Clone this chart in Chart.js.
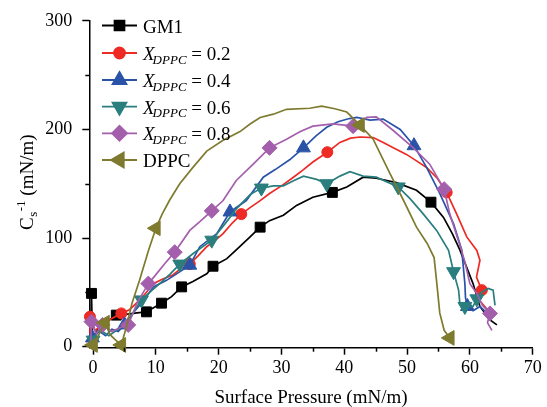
<!DOCTYPE html>
<html>
<head>
<meta charset="utf-8">
<style>
  html, body { margin: 0; padding: 0; background: #ffffff; }
  #wrap { width: 547px; height: 407px; position: relative; }
</style>
<script src="https://cdn.jsdelivr.net/npm/chart.js@4.4.0/dist/chart.umd.min.js"></script>
</head>
<body>
<div id="wrap"><canvas id="c" width="547" height="407"></canvas></div>
<script>
// Surface pressure (mN/m) vs. compression modulus Cs^-1 (mN/m)
const xTicks = [0, 10, 20, 30, 40, 50, 60, 70];
const xMinorTicks = [5, 15, 25, 35, 45, 55, 65];
const yTicks = [0, 100, 200, 300];
const yMinorTicks = [50, 150, 250];

const legendLabels = ['GM1', 'X_DPPC = 0.2', 'X_DPPC = 0.4', 'X_DPPC = 0.6', 'X_DPPC = 0.8', 'DPPC'];

const gm1 = [[-0.35,2],[-0.25,49],[-0.1,8],[0.8,16],[2,22],[3.7,29],[5.5,30],[7,31],[8.5,32],[9.7,36],
  [10.9,40],[12.5,46],[14.1,55],[15.9,60],[18.1,67],[19.1,74],[21.3,81],[22.8,89],[25,101],[26.6,110],
  [28.1,116],[30.3,121],[32.4,130],[35,137.5],[38.1,142],[40.4,147],[43,156],[45.1,155],[48.3,151],
  [51.5,144],[53.8,133],[55.8,119],[57.2,104],[58.4,89],[60.5,58],[61.6,37],[63.2,24.5],[64.3,20]];
const gm1Marks = [-0.25, 3.7, 8.5, 10.9, 14.1, 19.1, 26.6, 38.1, 53.8];

const x02 = [[-0.45,3],[-0.5,27.5],[0.3,15],[1.5,20],[3,26],[4.5,30.6],[5.8,34],[6.9,40],[8.2,48],[9.6,58],
  [11,62],[12.7,66],[14,72],[15.4,76],[16.8,84],[18.1,92],[19.5,98],[20.7,104],[22.2,114],[23.6,122],
  [25,128],[26.5,134],[28.1,141],[30,148],[31.9,156],[33.5,163],[35,170],[37.3,179],[39.3,188],[41,192],
  [42.5,193],[44.6,192.5],[46.2,188],[47.8,183],[49.9,177],[51.5,171],[53.1,165],[54.8,155],[56.3,142],
  [57.9,122],[59.5,101],[61.1,88.6],[61.6,79.5],[61.05,64],[61.9,52],[61.3,44],[62.5,36],[63.5,30]];
const x02Marks = [-0.5, 4.5, 15.4, 23.6, 37.3, 56.3, 61.9];

const x04 = [[-0.4,1],[-0.1,8],[1,14],[2,10],[3,16],[4,14],[5,20],[6.5,32],[8,42],[9.6,55],
  [11.7,61],[13.3,67],[15.4,75],[17,92],[19.7,104],[21.8,124],[24.4,134.5],[27.1,156],[29,163],[31.3,172],
  [33.5,183],[35.5,194],[37.2,202],[39,207],[40.8,210],[42,211],[44.1,208.5],[46.2,209.5],[48.9,200],
  [51.1,185],[53.1,165],[55.2,141],[57.4,113],[58.7,89],[59.2,58],[59.3,45],[59.6,37],[60.5,33],
  [61.6,37],[63.2,28]];
const x04Marks = [-0.1, 5, 15.4, 21.8, 33.5, 51.1, 59.6];

const x06 = [[-0.4,0],[0,6],[1,16],[2.5,10],[4,16],[5.5,22],[6.5,32],[7.7,43],[9,50],[10.6,58],
  [12.3,67],[13.8,76],[16,86],[18.9,98],[21,113],[23,128],[25,140],[26.8,146],[28.7,148],[30.3,148],
  [32,153],[33.5,157],[35.6,154],[37.2,150],[39.3,157],[40.9,161],[43,157],[45.1,156],[48.6,147],
  [50.5,136],[52.6,122],[54.7,107],[56.6,88.6],[57.4,69],[58.2,52],[58.4,40],[59.2,37],[60.5,37],
  [61.1,44],[61.6,49],[62.9,53.5],[63.7,52],[64,38]];
const x06Marks = [0, 7.7, 13.8, 18.9, 26.8, 37.2, 48.6, 57.4, 59.2, 61.1];

const x08 = [[-0.4,2],[-0.25,23],[0.5,12],[1.5,20],[3,14],[4.5,18],[5.6,20],[7,40],[8.8,58],[10.1,67],
  [11.5,77],[13,87],[15.4,107],[17,115],[18.9,125],[20.7,134.5],[22.8,153],[25.5,168],[28.1,183],
  [30.8,191],[33,198],[35,203],[38.2,205],[41.4,203],[43.6,211],[45.1,211.5],[47.8,199],[51,183],
  [53.6,168],[55.9,145],[56.8,122],[58.6,90],[59.2,78],[60,58],[61.1,49],[62,38],[63.2,30.6],
  [62.8,22],[63.5,15]];
const x08Marks = [-0.25, 1.5, 5.6, 8.8, 13, 18.9, 28.1, 41.4, 55.9, 63.2];

const dppc = [[-0.5,1],[0,1.5],[1,12],[1.9,22],[2.7,11],[3.6,6],[4.5,1.5],[5.3,18],[6.2,40],[7.4,61],
  [8.8,88],[10,109],[11,122],[12.2,135],[13.8,150],[15.9,165],[18.1,180],[20.7,190],[23.4,198],[25,205],
  [26.6,211],[28.7,214],[30.8,218.5],[34.5,219.5],[36.4,221.5],[38.5,219],[40.4,216],[42.5,204],
  [44.6,191],[47.3,159],[49.4,135],[51.5,110],[53.2,95],[54.3,82],[54.7,60],[55.2,31],[55.9,15],[56.8,8]];
const dppcMarks = [0, 1.9, 4.5, 10, 42.5, 56.8];

const FONT = '"Liberation Serif", "Times New Roman", serif';

const seriesList = [
  { data: gm1,  marks: gm1Marks,  color: '#000000', style: 'rect',     rot: 0,   r: 7 },
  { data: x02,  marks: x02Marks,  color: '#ee2a24', style: 'circle',   rot: 0,   r: 5.5 },
  { data: x04,  marks: x04Marks,  color: '#2a53a8', style: 'triangle', rot: 0,   r: 8 },
  { data: x06,  marks: x06Marks,  color: '#2a7e7e', style: 'triangle', rot: 180, r: 8 },
  { data: x08,  marks: x08Marks,  color: '#a45fac', style: 'rectRot',  rot: 0,   r: 7.5 },
  { data: dppc, marks: dppcMarks, color: '#7e7a2e', style: 'triangle', rot: -90, r: 8.5 }
];

const datasets = seriesList.map((s, i) => {
  const markSet = new Set(s.marks);
  return {
    label: legendLabels[i],
    data: s.data.map(p => ({ x: p[0], y: p[1] })),
    borderColor: s.color,
    backgroundColor: s.color,
    borderWidth: 1.7,
    tension: 0,
    clip: false,
    order: seriesList.length - i,
    pointStyle: s.style,
    pointRotation: s.rot,
    pointBackgroundColor: s.color,
    pointBorderColor: s.color,
    pointBorderWidth: 1,
    pointRadius: c => (c.raw && markSet.has(c.raw.x)) ? s.r : 0,
    pointHoverRadius: c => (c.raw && markSet.has(c.raw.x)) ? s.r : 0,
    pointHitRadius: 0
  };
});

// minor ticks, axis titles and the inset legend
const decorations = {
  id: 'decorations',
  afterDraw(chart) {
    const ctx = chart.ctx;
    const xs = chart.scales.x, ys = chart.scales.y;
    const area = chart.chartArea;
    ctx.save();
    ctx.strokeStyle = '#000';
    ctx.lineWidth = 1.5;
    xMinorTicks.forEach(v => {
      const px = Math.round(xs.getPixelForValue(v)) + 0.5;
      ctx.beginPath(); ctx.moveTo(px, area.bottom); ctx.lineTo(px, area.bottom + 4); ctx.stroke();
    });
    yMinorTicks.forEach(v => {
      const py = Math.round(ys.getPixelForValue(v)) + 0.5;
      ctx.beginPath(); ctx.moveTo(area.left, py); ctx.lineTo(area.left - 4, py); ctx.stroke();
    });

    // x title
    ctx.fillStyle = '#000';
    ctx.font = '19px ' + FONT;
    ctx.textAlign = 'center';
    ctx.textBaseline = 'alphabetic';
    ctx.fillText('Surface Pressure (mN/m)', (area.left + area.right) / 2, 403);

    // y title: C_s^-1 (mN/m)
    ctx.textAlign = 'left';
    ctx.save();
    ctx.translate(33, 230);
    ctx.rotate(-Math.PI / 2);
    let cx = 0;
    ctx.font = '19px ' + FONT;
    ctx.fillText('C', cx, 0);
    cx += ctx.measureText('C').width;
    ctx.font = '13px ' + FONT;
    ctx.fillText('s', cx + 0.5, 4);
    const sw = ctx.measureText('s').width;
    ctx.fillText('-1', cx + sw + 1, -8);
    cx += sw + 1 + ctx.measureText('-1').width;
    ctx.font = '19px ' + FONT;
    ctx.fillText(' (mN/m)', cx, 0);
    ctx.restore();

    // legend
    const rowY = [25.5, 53, 80, 106.7, 133.3, 160];
    seriesList.forEach((s, i) => {
      const y = rowY[i];
      ctx.strokeStyle = s.color;
      ctx.lineWidth = 1.8;
      ctx.beginPath(); ctx.moveTo(102, y); ctx.lineTo(137, y); ctx.stroke();
      ctx.fillStyle = s.color;
      Chart.helpers.drawPoint(ctx, {
        pointStyle: s.style, rotation: s.rot, radius: s.r, borderWidth: 1
      }, 119.5, y);
      ctx.fillStyle = '#000';
      ctx.textAlign = 'left';
      const label = legendLabels[i];
      const m = label.match(/^X_(\w+)(.*)$/);
      const base = y + 7;
      if (m) {
        let tx = 143;
        ctx.font = 'italic 19px ' + FONT;
        ctx.fillText('X', tx, base);
        tx += ctx.measureText('X').width - 2;
        ctx.font = 'italic 13px ' + FONT;
        ctx.fillText(m[1], tx, base + 3.5);
        tx += ctx.measureText(m[1]).width;
        ctx.font = '19px ' + FONT;
        ctx.fillText(m[2], tx, base);
      } else {
        ctx.font = '19px ' + FONT;
        ctx.fillText(label, 143, base);
      }
    });
    ctx.restore();
  }
};

new Chart(document.getElementById('c'), {
  type: 'line',
  data: { datasets },
  options: {
    responsive: false,
    animation: false,
    events: [],
    layout: { padding: { left: 0, right: 14.3, top: 19.3, bottom: 0 } },
    plugins: { legend: { display: false }, tooltip: { enabled: false } },
    scales: {
      x: {
        type: 'linear',
        min: -0.6, max: 70,
        afterBuildTicks: s => { s.ticks = xTicks.map(v => ({ value: v })); },
        afterFit: s => { s.height = 59.3; },
        grid: { drawOnChartArea: false, drawTicks: true, tickLength: 7, tickColor: '#000', tickWidth: 1.5 },
        border: { display: true, color: '#000', width: 1.5 },
        ticks: { color: '#000', font: { family: FONT, size: 18 }, padding: 3, maxRotation: 0, autoSkip: false }
      },
      y: {
        type: 'linear',
        min: -1, max: 300,
        afterBuildTicks: s => { s.ticks = yTicks.map(v => ({ value: v })); },
        afterFit: s => { s.width = 89.3; },
        grid: { drawOnChartArea: false, drawTicks: true, tickLength: 7, tickColor: '#000', tickWidth: 1.5 },
        border: { display: true, color: '#000', width: 1.5 },
        ticks: { color: '#000', font: { family: FONT, size: 18 }, padding: 10, autoSkip: false }
      }
    }
  },
  plugins: [decorations]
});
</script>
</body>
</html>
